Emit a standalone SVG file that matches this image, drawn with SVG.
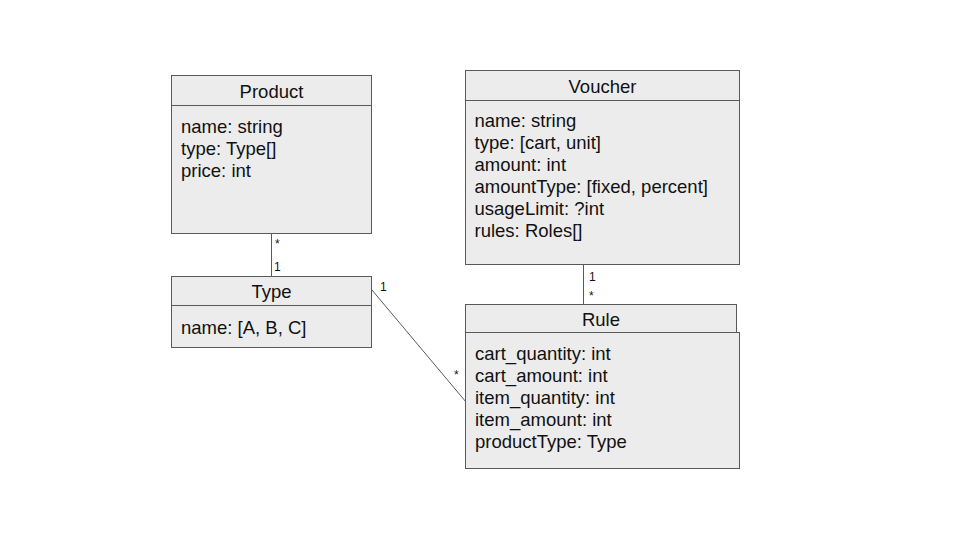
<svg xmlns="http://www.w3.org/2000/svg" width="960" height="540" viewBox="0 0 960 540">
<style>
.box{fill:#ececec;stroke:#595959;stroke-width:1}
.t{font-family:"Liberation Sans",Arial,sans-serif;font-size:18.5px;fill:#111}
.c{text-anchor:middle}
.m{font-family:"Liberation Sans",Arial,sans-serif;font-size:12px;fill:#111}
.ln{stroke:#595959;stroke-width:1;fill:none}
</style>
<rect width="960" height="540" fill="#ffffff"/>
<g id="connectors">
<line class="ln" x1="271.5" y1="233.5" x2="271.5" y2="276"/>
<text class="m" x="275" y="248">*</text>
<text class="m" x="274" y="271">1</text>
<line class="ln" x1="583.5" y1="264.5" x2="583.5" y2="304.5"/>
<text class="m" x="589" y="281">1</text>
<text class="m" x="589" y="300">*</text>
<line class="ln" x1="372" y1="290" x2="466" y2="402"/>
<text class="m" x="380" y="291">1</text>
<text class="m" x="454" y="379">*</text>
</g>
<g id="product">
<rect class="box" x="171.5" y="75.5" width="200" height="158"/>
<line class="ln" x1="171.5" y1="105.5" x2="371.5" y2="105.5"/>
<text class="t c" x="271.5" y="97.5">Product</text>
<text class="t" x="181" y="133">name: string</text>
<text class="t" x="181" y="155">type: Type[]</text>
<text class="t" x="181" y="177">price: int</text>
</g>
<g id="type">
<rect class="box" x="171.5" y="276.5" width="200" height="71"/>
<line class="ln" x1="171.5" y1="305.5" x2="371.5" y2="305.5"/>
<text class="t c" x="271.5" y="297.5">Type</text>
<text class="t" x="181" y="333.5">name: [A, B, C]</text>
</g>
<g id="voucher">
<rect class="box" x="465.5" y="70.5" width="274" height="194"/>
<line class="ln" x1="465.5" y1="100.5" x2="739.5" y2="100.5"/>
<text class="t c" x="602.5" y="92.5">Voucher</text>
<text class="t" x="474.5" y="127">name: string</text>
<text class="t" x="474.5" y="149">type: [cart, unit]</text>
<text class="t" x="474.5" y="171">amount: int</text>
<text class="t" x="474.5" y="193">amountType: [fixed, percent]</text>
<text class="t" x="474.5" y="215">usageLimit: ?int</text>
<text class="t" x="474.5" y="237">rules: Roles[]</text>
</g>
<g id="rule">
<rect class="box" x="465.5" y="304.5" width="271" height="28"/>
<rect class="box" x="465.5" y="332.5" width="274" height="136"/>
<text class="t c" x="601" y="326">Rule</text>
<text class="t" x="475" y="360">cart_quantity: int</text>
<text class="t" x="475" y="382">cart_amount: int</text>
<text class="t" x="475" y="404">item_quantity: int</text>
<text class="t" x="475" y="426">item_amount: int</text>
<text class="t" x="475" y="448">productType: Type</text>
</g>
</svg>
